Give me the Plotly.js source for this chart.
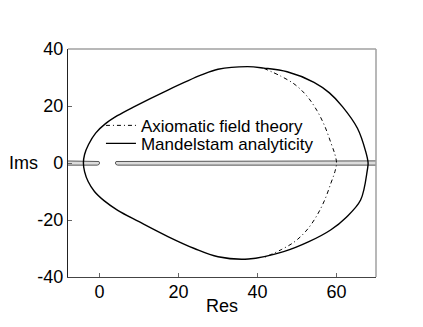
<!DOCTYPE html>
<html>
<head>
<meta charset="utf-8">
<script src="https://cdn.plot.ly/plotly-3.0.1.min.js"></script>
<style>
  html, body { margin: 0; padding: 0; background: #fff; }
  #plot { width: 423px; height: 327px; }
</style>
</head>
<body>
<div id="plot"></div>
<script>
// Mandelstam analyticity domain (closed egg-shaped curve)
var mandelX = [68.0, 67.4, 65.3, 61.5, 58.2, 54.3, 47.5, 41.6, 37.5, 30.0, 25.8, 17.3, 8.8, 4.5, 1.5, -1.0, -2.8, -3.8, -4.1,
               -3.8, -2.9, -1.3, 1.2, 4.6, 10.0, 17.3, 24.0, 30.0, 37.7, 46.6, 53.0, 58.5, 62.5, 66.1, 67.8, 68.0];
var mandelY = [0, 4.0, 12.2, 19.8, 24.6, 28.3, 32.0, 33.3, 33.8, 32.9, 30.9, 25.6, 19.8, 16.6, 13.8, 10.5, 6.5, 3.0, 0,
               -3.0, -6.5, -10.0, -13.3, -16.6, -20.6, -25.8, -30.0, -32.9, -33.7, -31.1, -27.6, -23.5, -19.0, -13.0, -2.5, 0];

// axiomatic field theory boundary (dash-dot)
var axiomX = [41.6, 46.0, 49.5, 52.5, 55.0, 57.0, 58.6, 59.6, 60.0, 59.6, 58.6, 57.0, 55.0, 52.5, 49.5, 46.0, 41.6];
var axiomY = [33.2, 30.4, 27.5, 23.5, 18.5, 13.0, 7.0, 3.0, 0, -3.0, -7.0, -13.0, -18.5, -23.5, -27.5, -30.4, -33.2];

// cuts along the real axis
var cutRightX = [72, 4.6, 4.17, 4.0, 4.17, 4.6, 72];
var cutRightY = [0.75, 0.75, 0.53, 0, -0.53, -0.75, -0.75];
var cutLeftX = [-10, -0.6, -0.17, 0, -0.17, -0.6, -10];
var cutLeftY = [0.75, 0.75, 0.53, 0, -0.53, -0.75, -0.75];

var xTicks = [0, 20, 40, 60];
var yTicks = [-40, -20, 0, 20, 40];
var yTickText = ['-40', '-20', '0', '20', '40'];

var FONT = 'Liberation Sans, Arial, Helvetica, sans-serif';

var cutStyle = {
    type: 'scatter', mode: 'lines', fill: 'toself', fillcolor: '#dcdcdc',
    line: {color: '#555', width: 1}, showlegend: false, hoverinfo: 'skip'
};

var data = [
    Object.assign({x: cutLeftX, y: cutLeftY}, cutStyle),
    Object.assign({x: cutRightX, y: cutRightY}, cutStyle),
    {
        type: 'scatter', mode: 'lines', name: 'Mandelstam analyticity',
        x: mandelX, y: mandelY, legend: 'legend2',
        line: {color: '#000', width: 1.4, shape: 'spline', smoothing: 1}
    },
    {
        type: 'scatter', mode: 'lines', name: 'Axiomatic field theory',
        x: axiomX, y: axiomY, legend: 'legend',
        line: {color: '#000', width: 1, shape: 'spline', smoothing: 1, dash: '4px,3px,1px,3px'}
    }
];

var legendStyle = {
    xanchor: 'left', yanchor: 'top', bgcolor: 'rgba(0,0,0,0)', font: {size: 17}
};

var layout = {
    width: 423, height: 327,
    margin: {l: 68, r: 47, t: 49, b: 50},
    paper_bgcolor: '#fff', plot_bgcolor: '#fff',
    font: {family: FONT, size: 18, color: '#000'},
    showlegend: true,
    legend: Object.assign({x: 0.107, y: 0.742}, legendStyle),
    legend2: Object.assign({x: 0.107, y: 0.663}, legendStyle),
    xaxis: {
        range: [-8, 70], tickvals: xTicks, ticks: 'inside', ticklen: 4, tickcolor: '#666',
        ticklabelstandoff: -2,
        showgrid: false, zeroline: false, showline: true, linecolor: '#444', linewidth: 1.2
    },
    yaxis: {
        range: [-40, 40], tickvals: yTicks, ticktext: yTickText, ticks: 'inside', ticklen: 4, tickcolor: '#666',
        showgrid: false, zeroline: false, showline: true, linecolor: '#222', linewidth: 1.2
    },
    shapes: [
        {type: 'line', xref: 'paper', yref: 'paper', x0: 0, x1: 1, y0: 1, y1: 1, line: {color: '#a0a0a0', width: 1.5}},
        {type: 'line', xref: 'paper', yref: 'paper', x0: 1, x1: 1, y0: 0, y1: 1, line: {color: '#a0a0a0', width: 1.5}}
    ],
    annotations: [
        {text: 'Res', xref: 'paper', yref: 'paper', x: 0.5, y: -0.127, xanchor: 'center', yanchor: 'middle',
         showarrow: false, font: {size: 18}},
        {text: 'Ims', xref: 'paper', yref: 'y', x: -0.198, y: 0, xanchor: 'left', yanchor: 'middle',
         showarrow: false, font: {size: 18}}
    ]
};

Plotly.newPlot('plot', data, layout, {displayModeBar: false, staticPlot: true});
</script>
</body>
</html>
